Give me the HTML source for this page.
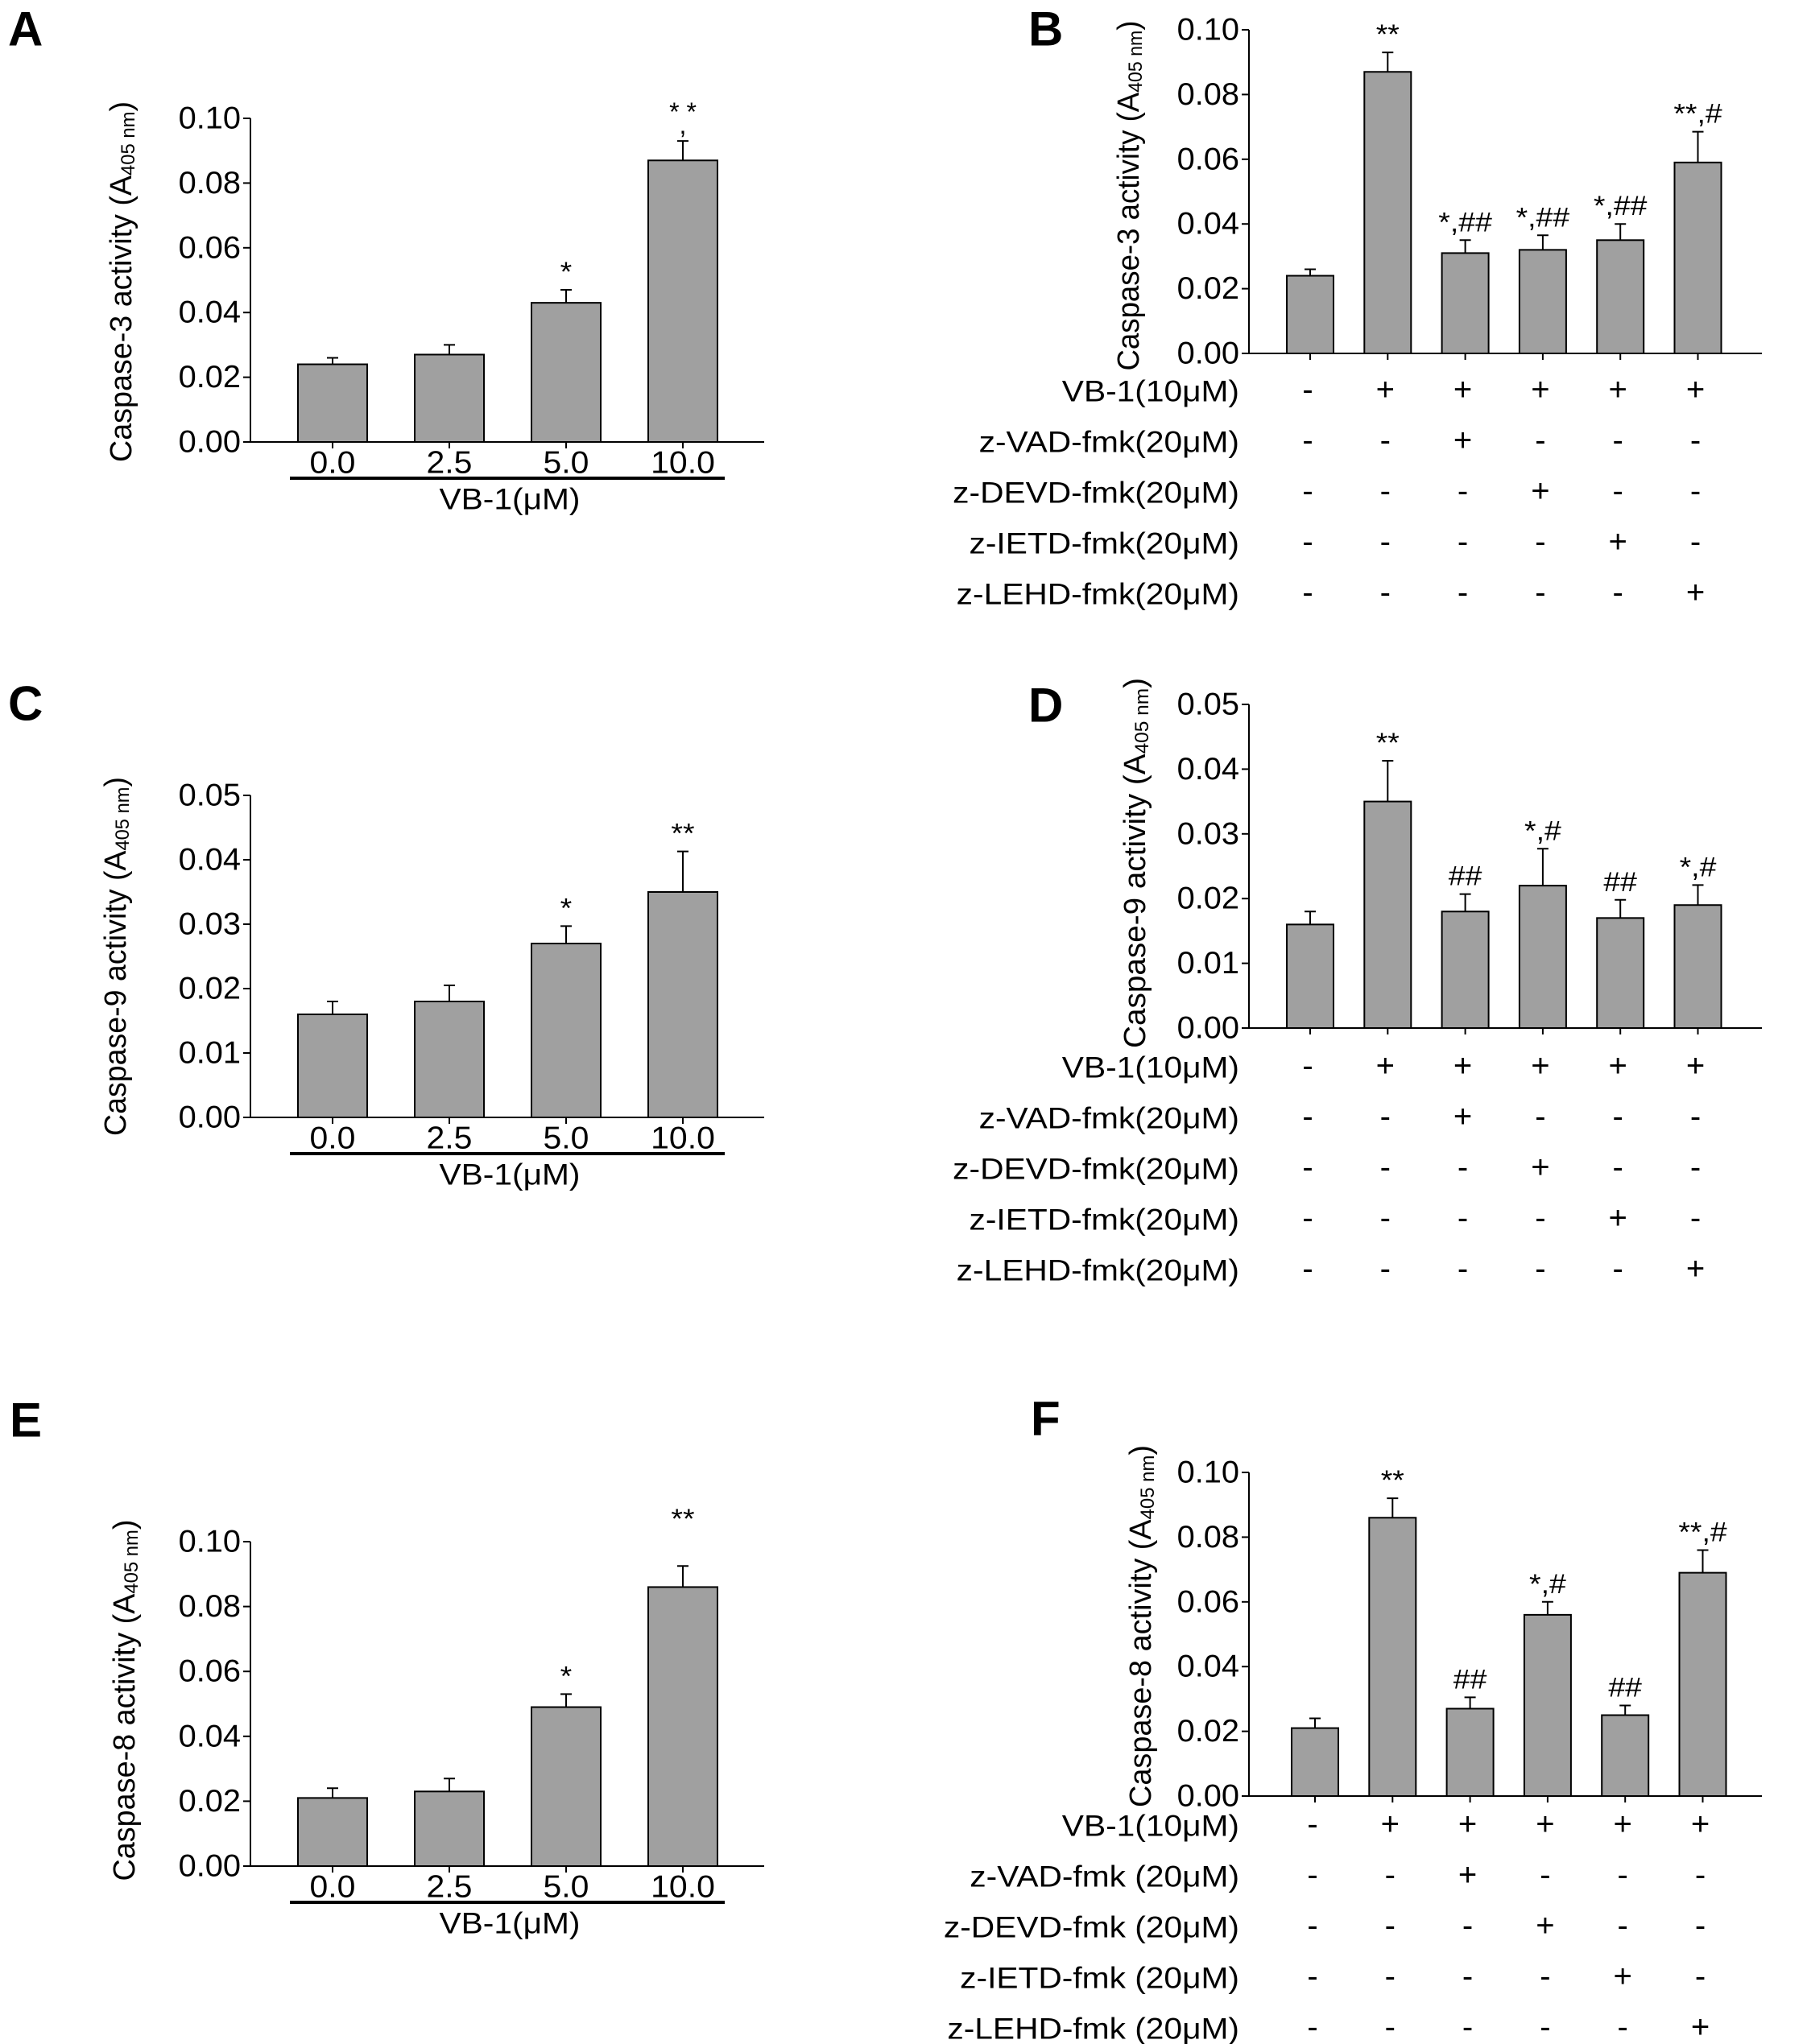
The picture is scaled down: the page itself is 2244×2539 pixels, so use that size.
<!DOCTYPE html>
<html><head><meta charset="utf-8"><style>
html,body{margin:0;padding:0;background:#fff;}
svg{display:block;font-family:"Liberation Sans",Arial,sans-serif;}
</style></head><body>
<svg id="fig" width="2244" height="2539" viewBox="0 0 2244 2539" xmlns="http://www.w3.org/2000/svg"></svg>
<script>
// ---- Panel A: Caspase-3 vs VB-1 dose ----
const aCategories = ["0.0","2.5","5.0","10.0"];
const aValues = [0.024, 0.027, 0.043, 0.087];
const aErrors = [0.002, 0.003, 0.004, 0.006];
const aAnnot = ["", "", "*", "* *"];
const aTicks = [0, 0.02, 0.04, 0.06, 0.08, 0.10];
const aTickLabels = ["0.00","0.02","0.04","0.06","0.08","0.10"];
// ---- Panel B: Caspase-3 with inhibitors ----
const bValues = [0.024, 0.087, 0.031, 0.032, 0.035, 0.059];
const bErrors = [0.002, 0.006, 0.004, 0.0045, 0.005, 0.0095];
const bAnnot = ["", "**", "*,##", "*,##", "*,##", "**,#"];
// ---- Panel C: Caspase-9 vs dose ----
const cValues = [0.016, 0.018, 0.027, 0.035];
const cErrors = [0.002, 0.0025, 0.0027, 0.0063];
const cAnnot = ["", "", "*", "**"];
const cTicks = [0, 0.01, 0.02, 0.03, 0.04, 0.05];
const cTickLabels = ["0.00","0.01","0.02","0.03","0.04","0.05"];
// ---- Panel D: Caspase-9 with inhibitors ----
const dValues = [0.016, 0.035, 0.018, 0.022, 0.017, 0.019];
const dErrors = [0.002, 0.0063, 0.0027, 0.0057, 0.0028, 0.0031];
const dAnnot = ["", "**", "##", "*,#", "##", "*,#"];
// ---- Panel E: Caspase-8 vs dose ----
const eValues = [0.021, 0.023, 0.049, 0.086];
const eErrors = [0.003, 0.004, 0.004, 0.0065];
const eAnnot = ["", "", "*", "**"];
const eAnnotAt = [null, null, null, 0.107];
// ---- Panel F: Caspase-8 with inhibitors ----
const fValues = [0.021, 0.086, 0.027, 0.056, 0.025, 0.069];
const fErrors = [0.003, 0.006, 0.0035, 0.004, 0.003, 0.007];
const fAnnot = ["", "**", "##", "*,#", "##", "**,#"];
// ---- treatment table ----
const rowLabels = ["VB-1(10\u03bcM)","z-VAD-fmk(20\u03bcM)","z-DEVD-fmk(20\u03bcM)","z-IETD-fmk(20\u03bcM)","z-LEHD-fmk(20\u03bcM)"];
const rowLabelsF = ["VB-1(10\u03bcM)","z-VAD-fmk (20\u03bcM)","z-DEVD-fmk (20\u03bcM)","z-IETD-fmk (20\u03bcM)","z-LEHD-fmk (20\u03bcM)"];
const treatMatrix = [
  ["-","+","+","+","+","+"],
  ["-","-","+","-","-","-"],
  ["-","-","-","+","-","-"],
  ["-","-","-","-","+","-"],
  ["-","-","-","-","-","+"]
];

const NS = "http://www.w3.org/2000/svg";
const svg = document.getElementById("fig");
function mk(tag, attrs, parent){
  const e = document.createElementNS(NS, tag);
  for (const k in attrs) e.setAttribute(k, attrs[k]);
  (parent||svg).appendChild(e);
  return e;
}
function txt(str, x, y, size, anchor, parent, weight){
  const t = mk("text", {x:x, y:y, "font-size":size, "text-anchor":anchor||"middle", "dominant-baseline":"central", fill:"#000"}, parent);
  if (weight) t.setAttribute("font-weight", weight);
  t.textContent = str;
  return t;
}
function stretch(t, f){
  const L = t.getComputedTextLength();
  if (L > 0){ t.setAttribute("textLength", (L*f).toFixed(1)); t.setAttribute("lengthAdjust","spacingAndGlyphs"); }
}

function drawPanel(cfg){
  const g = mk("g", {});
  
  
  const ymax = cfg.ticks[cfg.ticks.length-1];
  const yS = v => cfg.y0 - (v/ymax)*(cfg.y0 - cfg.yTop);
  const xS = i => cfg.c0 + i*cfg.step;
  const pl = txt(cfg.letter, cfg.lx, cfg.ly, 60, "start", g, "bold");
  
  
  cfg.values.forEach((v,i)=>{
    const r = mk("rect", {x:xS(i)-cfg.bw/2, y:yS(v), width:cfg.bw, height:cfg.y0-yS(v), fill:"#a0a0a0", stroke:"#000", "stroke-width":2}, g);
    
    
    const top = yS(v + cfg.errors[i]);
    const eb = mk("path", {d:`M${xS(i)},${yS(v)} V${top} M${xS(i)-7},${top} H${xS(i)+7}`, stroke:"#000", "stroke-width":2, fill:"none"}, g);
    
    
    const a = cfg.annot[i];
    if (a){
      let ay = top - 22;
      if (cfg.annotAt && cfg.annotAt[i] != null) ay = yS(cfg.annotAt[i]);
      if (a === "* *"){
        const t1 = txt("* *", xS(i), ay-14, 32, "middle", g);
        
        
        const t2 = txt(",", xS(i), ay+2, 32, "middle", g);
        
        
      } else {
        const t = txt(a, xS(i), ay, 34, "middle", g);
        
        
        stretch(t, 1.1);
      }
    }
  });
  const ax = mk("path", {d:`M${cfg.ax},${cfg.yTop} V${cfg.y0} H${cfg.axEnd}`, stroke:"#000", "stroke-width":2, fill:"none"}, g);
  
  
  cfg.ticks.forEach((tv,k)=>{
    const y = yS(tv);
    const tk = mk("line", {x1:cfg.ax-9, x2:cfg.ax, y1:y, y2:y, stroke:"#000", "stroke-width":2}, g);
    
    
    const t = txt(cfg.tickLabels[k], cfg.ax-12, y, 39, "end", g);
    
    
    stretch(t, 1.02);
  });
  cfg.values.forEach((v,i)=>{
    const tk = mk("line", {x1:xS(i), x2:xS(i), y1:cfg.y0, y2:cfg.y0+8, stroke:"#000", "stroke-width":2}, g);
    
    
  });
  const tt = mk("text", {transform:`translate(${cfg.tx},${cfg.ty}) rotate(-90)`, "font-size":38, "text-anchor":"middle", "dominant-baseline":"central", textLength:cfg.tlen, lengthAdjust:"spacingAndGlyphs"}, g);
  
  
  tt.innerHTML = cfg.title + ' (A<tspan font-size="24" dy="8">405 nm</tspan><tspan dy="-8">)</tspan>';
  if (cfg.type === "dose"){
    aCategories.forEach((c,i)=>{
      const t = txt(c, xS(i), cfg.y0+26, 39, "middle", g);
      
      
      stretch(t, 1.05);
    });
    const ul = mk("line", {x1:360, x2:900, y1:cfg.y0+45, y2:cfg.y0+45, stroke:"#000", "stroke-width":4}, g);
    
    
    const xl = txt("VB-1(\u03bcM)", 633, cfg.y0+71, 37, "middle", g);
    
    
    stretch(xl, 1.1);
  } else {
    const labels = cfg.rowLabels;
    labels.forEach((lab,r)=>{
      const ry = cfg.row0 + r*63;
      const t = txt(lab, 1539, ry, 37, "end", g);
      
      
      stretch(t, 1.1);
      treatMatrix[r].forEach((s,i)=>{
        const m = txt(s, xS(i)-3, ry-2, 40, "middle", g);
        
        
      });
    });
  }
}

const doseCommon = {type:"dose", ax:311, axEnd:949, c0:413, step:145, bw:86, tx:151};
const inhCommon = {type:"inh", ax:1551, axEnd:2188, c0:1627, step:96.3, bw:58, rowLabels:rowLabels};

drawPanel(Object.assign({}, doseCommon, {name:"panel-a", letter:"A", lx:10, ly:36, y0:549, yTop:147, values:aValues, errors:aErrors, annot:aAnnot, ticks:aTicks, tickLabels:aTickLabels, title:"Caspase-3 activity", ty:350, tlen:448}));
drawPanel(Object.assign({}, inhCommon, {name:"panel-b", letter:"B", lx:1277, ly:36, y0:439, yTop:37, values:bValues, errors:bErrors, annot:bAnnot, ticks:aTicks, tickLabels:aTickLabels, title:"Caspase-3 activity", tx:1402, ty:243, tlen:435, row0:486}));
drawPanel(Object.assign({}, doseCommon, {name:"panel-c", letter:"C", lx:10, ly:874, y0:1388, yTop:988, values:cValues, errors:cErrors, annot:cAnnot, ticks:cTicks, tickLabels:cTickLabels, title:"Caspase-9 activity", tx:144, ty:1188, tlen:446}));
drawPanel(Object.assign({}, inhCommon, {name:"panel-d", letter:"D", lx:1277, ly:876, y0:1277, yTop:875, values:dValues, errors:dErrors, annot:dAnnot, ticks:cTicks, tickLabels:cTickLabels, title:"Caspase-9 activity", tx:1410, ty:1072, tlen:460, row0:1326}));
drawPanel(Object.assign({}, doseCommon, {name:"panel-e", letter:"E", lx:12, ly:1764, y0:2318, yTop:1915, values:eValues, errors:eErrors, annot:eAnnot, annotAt:eAnnotAt, ticks:aTicks, tickLabels:aTickLabels, title:"Caspase-8 activity", tx:155, ty:2112, tlen:449}));
drawPanel(Object.assign({}, inhCommon, {name:"panel-f", letter:"F", lx:1280, ly:1762, y0:2231, yTop:1829, c0:1633, values:fValues, errors:fErrors, annot:fAnnot, ticks:aTicks, tickLabels:aTickLabels, title:"Caspase-8 activity", tx:1417, ty:2020, tlen:450, row0:2268, rowLabels:rowLabelsF}));
</script>
</body></html>
